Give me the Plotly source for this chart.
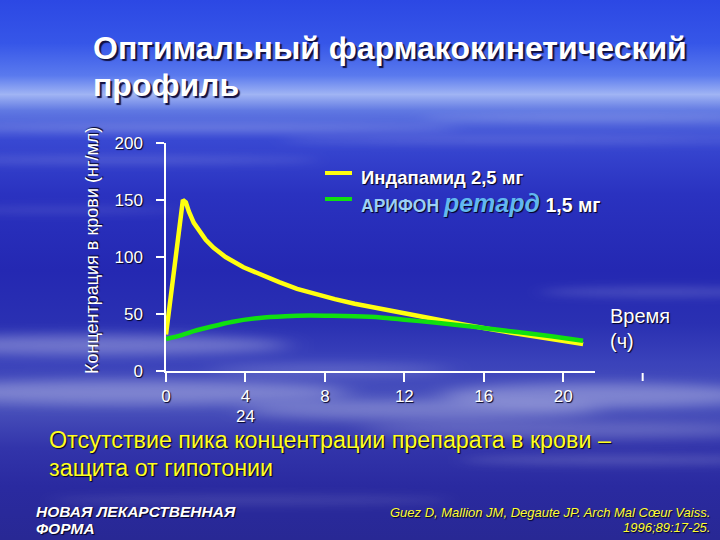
import base64
import plotly.graph_objects as go

# ---- data ----
time_yellow = [0, 0.85, 1.0, 1.15, 1.4, 1.7, 2.0, 2.4, 3.0, 3.9, 4.8, 5.7, 6.6, 7.6, 8.5,
               9.5, 10.7, 12.0, 13.4, 14.9, 16.9, 19.0, 21.0]
conc_indapamide = [32, 150, 148, 140, 130, 122, 115, 108, 100, 91, 84, 78, 72, 67, 63,
                   59, 55, 50, 45, 41, 35, 29, 23.6]
time_green = [0, 0.7, 1.4, 2.3, 3.3, 4.7, 6.0, 7.2, 8.4, 9.5, 10.8, 12.0, 13.5, 14.9,
              16.3, 17.8, 19.4, 21.0]
conc_arifon = [28, 31, 35, 39, 43, 46.5, 48, 48.6, 48.4, 48, 47, 45, 42.5, 40,
               37, 34, 30.5, 26.5]
x_ticks = [0, 4, 8, 12, 16, 20]
y_ticks = [0, 50, 100, 150, 200]

# ---- geometry helpers (pixel -> paper) ----
L, R, T, B = 166, 595, 143, 371
W, H = 720, 540
def fx(px):
    return (px - L) / (R - L)
def fy(py):
    return (B - py) / (B - T)

XMAX = 21.6

# ---- background (sky) ----
svg = f'''<svg xmlns="http://www.w3.org/2000/svg" width="{W}" height="{H}" viewBox="0 0 {W} {H}">
<defs>
<linearGradient id="g" x1="0" y1="0" x2="0" y2="1">
<stop offset="0" stop-color="#2c48e4"/>
<stop offset="0.08" stop-color="#3656e8"/>
<stop offset="0.14" stop-color="#5a7aee"/>
<stop offset="0.175" stop-color="#a0b4f4"/>
<stop offset="0.205" stop-color="#6078e2"/>
<stop offset="0.26" stop-color="#3848d2"/>
<stop offset="0.36" stop-color="#2a32c0"/>
<stop offset="0.5" stop-color="#2428b2"/>
<stop offset="0.6" stop-color="#2a30b2"/>
<stop offset="0.67" stop-color="#3a42ba"/>
<stop offset="0.75" stop-color="#4a52bc"/>
<stop offset="0.83" stop-color="#3234aa"/>
<stop offset="0.9" stop-color="#2a2aa0"/>
<stop offset="1" stop-color="#282894"/>
</linearGradient>
<filter id="b" x="-20%" y="-200%" width="140%" height="500%"><feGaussianBlur stdDeviation="9 4"/></filter>
<filter id="b2" x="-20%" y="-200%" width="140%" height="500%"><feGaussianBlur stdDeviation="14 6"/></filter>
</defs>
<rect width="{W}" height="{H}" fill="url(#g)"/>
<g fill="#ffffff" filter="url(#b)">
<ellipse cx="200" cy="128" rx="260" ry="3" opacity="0.25"/>
<ellipse cx="520" cy="140" rx="240" ry="3" opacity="0.2"/>
<ellipse cx="120" cy="160" rx="200" ry="3" opacity="0.18"/>
<ellipse cx="600" cy="118" rx="180" ry="3" opacity="0.22"/>
<ellipse cx="60" cy="210" rx="120" ry="3" opacity="0.12"/>
<ellipse cx="660" cy="292" rx="120" ry="5" opacity="0.15"/>
<ellipse cx="620" cy="460" rx="160" ry="5" opacity="0.15"/>
<ellipse cx="250" cy="500" rx="200" ry="5" opacity="0.1"/>
</g>
<g fill="#ffffff" filter="url(#b2)">
<ellipse cx="90" cy="345" rx="200" ry="10" opacity="0.3"/>
<ellipse cx="130" cy="392" rx="220" ry="12" opacity="0.3"/>
<ellipse cx="420" cy="410" rx="180" ry="10" opacity="0.25"/>
<ellipse cx="600" cy="395" rx="160" ry="12" opacity="0.3"/>
<ellipse cx="560" cy="430" rx="200" ry="8" opacity="0.2"/>
<ellipse cx="330" cy="370" rx="120" ry="6" opacity="0.18"/>
</g>
</svg>'''
bg_src = "data:image/svg+xml;base64," + base64.b64encode(svg.encode("utf-8")).decode("ascii")

FONT = "Liberation Sans, Arial, sans-serif"

fig = go.Figure()
fig.add_trace(go.Scatter(x=time_yellow, y=conc_indapamide, mode="lines",
                         line=dict(color="#ffff10", width=4.5),
                         name="Индапамид 2,5 мг", showlegend=False,
                         cliponaxis=False))
fig.add_trace(go.Scatter(x=time_green, y=conc_arifon, mode="lines",
                         line=dict(color="#10e010", width=4.5, shape="spline", smoothing=0.6),
                         name="АРИФОН ретард 1,5 мг", showlegend=False,
                         cliponaxis=False))

shadow = "1px 1px 1px #000020"
annotations = [
    # title
    dict(text="<b>Оптимальный фармакокинетический</b>", x=fx(91), y=fy(48),
         font=dict(size=32, color="white", shadow="2px 2px 1px #101040")),
    dict(text="<b>профиль</b>", x=fx(91), y=fy(85),
         font=dict(size=32, color="white", shadow="2px 2px 1px #101040")),
    # y axis title
    dict(text="Концентрация в крови (нг/мл)", x=fx(92), y=fy(251), textangle=-90,
         xanchor="center", font=dict(size=18, color="white", shadow=shadow)),
    # x axis label
    dict(text="Время", x=fx(608), y=fy(316), font=dict(size=20, color="white", shadow=shadow)),
    dict(text="(ч)", x=fx(608), y=fy(341), font=dict(size=20, color="white", shadow=shadow)),
    # extra label
    dict(text="24", x=4, xref="x", y=fy(416), xanchor="center",
         font=dict(size=17, color="white", shadow=shadow)),
    # legend text
    dict(text="<b>Индапамид 2,5 мг</b>", x=fx(359), y=fy(177),
         font=dict(size=18.5, color="white", shadow=shadow)),
    dict(text="<b><span style='color:#9cd0f6;font-size:17.5px'>АРИФОН </span>"
              "<i><span style='color:#62b8f0;font-size:25px'>ретард</span></i> 1,5 мг</b>",
         x=fx(359), y=fy(203), font=dict(size=19.5, color="white", shadow=shadow)),
    # conclusion
    dict(text="Отсутствие пика концентрации препарата в крови –", x=fx(47), y=fy(440),
         font=dict(size=23.3, color="#ffff20", shadow="1px 1px 1px #000020")),
    dict(text="защита от гипотонии", x=fx(47), y=fy(468),
         font=dict(size=23.3, color="#ffff20", shadow="1px 1px 1px #000020")),
    # footer
    dict(text="<b><i>НОВАЯ ЛЕКАРСТВЕННАЯ</i></b>", x=fx(34), y=fy(511),
         font=dict(size=15.5, color="white", shadow=shadow)),
    dict(text="<b><i>ФОРМА</i></b>", x=fx(34), y=fy(528),
         font=dict(size=15.5, color="white", shadow=shadow)),
    dict(text="<i>Guez D, Mallion JM, Degaute JP. Arch Mal Cœur Vaiss.</i>", x=fx(712), y=fy(512),
         xanchor="right", font=dict(size=13, color="#ffff30", shadow=shadow)),
    dict(text="<i>1996;89:17-25.</i>", x=fx(712), y=fy(527),
         xanchor="right", font=dict(size=13, color="#ffff30", shadow=shadow)),
]
for a in annotations:
    a.setdefault("xref", "paper")
    a["yref"] = "paper"
    a.setdefault("xanchor", "left")
    a["yanchor"] = "middle"
    a["showarrow"] = False
    a["align"] = "left"

shapes = [
    # legend symbols
    dict(type="line", xref="paper", yref="paper", x0=fx(325), x1=fx(352), y0=fy(173), y1=fy(173),
         line=dict(color="#ffff10", width=4)),
    dict(type="line", xref="paper", yref="paper", x0=fx(325), x1=fx(352), y0=fy(199), y1=fy(199),
         line=dict(color="#10e010", width=4)),
    # extra tick (24 h) beyond the axis line
    dict(type="line", xref="paper", yref="paper", x0=24 / XMAX, x1=24 / XMAX,
         y0=fy(373), y1=fy(381), line=dict(color="white", width=2)),
]

fig.update_layout(
    width=W, height=H,
    margin=dict(l=L, r=W - R, t=T, b=H - B, pad=0),
    paper_bgcolor="#2a2ab0",
    plot_bgcolor="rgba(0,0,0,0)",
    font=dict(family=FONT, color="white"),
    images=[dict(source=bg_src, xref="paper", yref="paper", x=fx(0), y=fy(0),
                 sizex=W / (R - L), sizey=H / (B - T), sizing="stretch",
                 xanchor="left", yanchor="top", layer="below")],
    annotations=annotations,
    shapes=shapes,
    xaxis=dict(range=[0, XMAX], tickvals=x_ticks, ticks="outside", ticklen=9, tickwidth=2,
               tickcolor="white", showline=True, linecolor="white", linewidth=1.5,
               showgrid=False, zeroline=False,
               tickfont=dict(size=17, color="white", family=FONT, shadow=shadow)),
    yaxis=dict(range=[0, 200], tickvals=y_ticks, ticks="outside", ticklen=8, tickwidth=1.5,
               tickcolor="white", showline=True, linecolor="white", linewidth=1.5,
               showgrid=False, zeroline=False, ticklabelstandoff=10,
               tickfont=dict(size=17, color="white", family=FONT, shadow=shadow)),
)

fig.write_html("out.html", config={"displayModeBar": False},
               post_script="document.body.style.margin='0';document.body.style.overflow='hidden';")
